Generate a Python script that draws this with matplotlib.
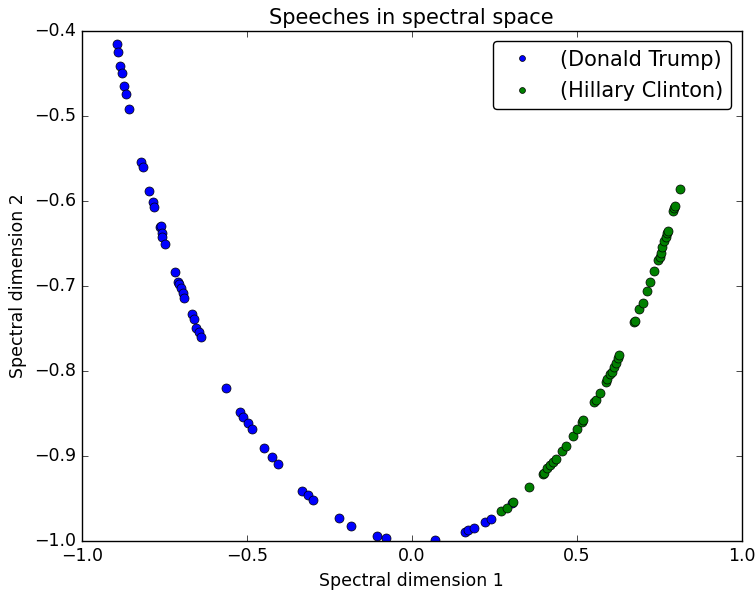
import matplotlib
matplotlib.use('Agg')
import matplotlib.pyplot as plt

# spectral coordinates
trump_x = [-0.894, -0.891, -0.885, -0.879, -0.873, -0.867, -0.858, -0.821, -0.815,
           -0.797, -0.785, -0.782, -0.764, -0.761, -0.755, -0.755, -0.748, -0.718,
           -0.709, -0.706, -0.700, -0.694, -0.691, -0.667, -0.661, -0.652, -0.645,
           -0.639, -0.564, -0.521, -0.512, -0.497, -0.485, -0.448, -0.424, -0.406,
           -0.333, -0.315, -0.300, -0.221, -0.185, -0.106, -0.079, 0.070, 0.161,
           0.170, 0.188, 0.221, 0.239, 0.303]
trump_y = [-0.415, -0.425, -0.441, -0.449, -0.465, -0.474, -0.492, -0.554, -0.560,
           -0.588, -0.601, -0.607, -0.631, -0.629, -0.638, -0.642, -0.651, -0.684,
           -0.695, -0.698, -0.702, -0.708, -0.714, -0.733, -0.739, -0.749, -0.754,
           -0.760, -0.820, -0.848, -0.854, -0.861, -0.868, -0.891, -0.901, -0.909,
           -0.941, -0.946, -0.952, -0.973, -0.982, -0.994, -0.996, -0.999, -0.989,
           -0.987, -0.984, -0.978, -0.974, -0.955]

clinton_x = [0.270, 0.288, 0.306, 0.355, 0.397, 0.400, 0.409, 0.418, 0.427, 0.436,
             0.455, 0.467, 0.488, 0.500, 0.515, 0.518, 0.552, 0.558, 0.570, 0.588,
             0.591, 0.600, 0.606, 0.612, 0.618, 0.624, 0.627, 0.673, 0.676, 0.688,
             0.700, 0.712, 0.721, 0.733, 0.748, 0.752, 0.755, 0.758, 0.764, 0.770,
             0.773, 0.776, 0.791, 0.794, 0.797, 0.812]
clinton_y = [-0.965, -0.961, -0.954, -0.936, -0.921, -0.920, -0.914, -0.911, -0.907,
             -0.904, -0.894, -0.888, -0.876, -0.868, -0.860, -0.858, -0.836, -0.834,
             -0.826, -0.813, -0.809, -0.804, -0.801, -0.795, -0.791, -0.785, -0.781,
             -0.742, -0.741, -0.727, -0.720, -0.706, -0.695, -0.682, -0.669, -0.666,
             -0.661, -0.654, -0.647, -0.642, -0.638, -0.635, -0.612, -0.608, -0.606,
             -0.586]

plt.style.use('classic')
plt.rcParams['font.size'] = 12.5
fig = plt.figure(figsize=(7.56, 5.94), dpi=100, facecolor='white')
ax = fig.add_subplot(111)
fig.subplots_adjust(left=0.108, right=0.981, top=0.948, bottom=0.089)

ax.plot(trump_x, trump_y, 'o', color='b', markersize=6.5, label='(Donald Trump)')
ax.plot(clinton_x, clinton_y, 'o', color='g', markersize=6.5, label='(Hillary Clinton)')

ax.set_xlim(-1.0, 1.0)
ax.set_ylim(-1.0, -0.4)
ax.set_title('Speeches in spectral space')
ax.set_xlabel('Spectral dimension 1')
ax.set_ylabel('Spectral dimension 2')
ax.legend(loc='upper right', numpoints=1, markerscale=0.65, fancybox=True,
          handlelength=2.0, handletextpad=0.8, labelspacing=0.55)

plt.savefig('out.png', dpi=100, facecolor='white')
